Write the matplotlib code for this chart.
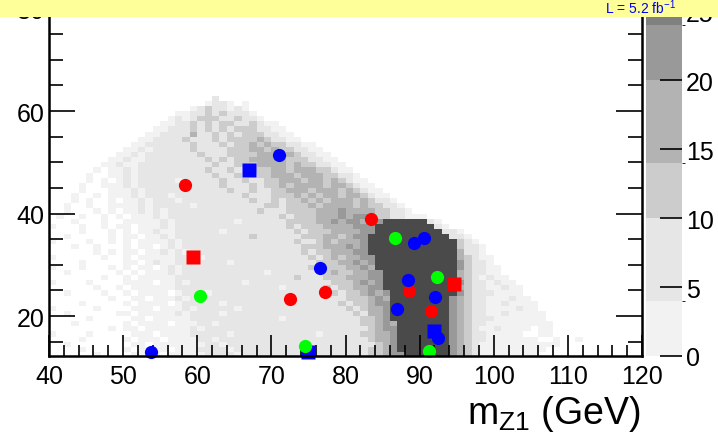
import numpy as np
import matplotlib
matplotlib.use("Agg")
import matplotlib.pyplot as plt
from matplotlib.colors import ListedColormap, BoundaryNorm
from matplotlib.patches import Rectangle
from matplotlib.ticker import MultipleLocator

plt.rcParams['font.family'] = ['Liberation Sans', 'DejaVu Sans']
plt.rcParams['mathtext.fontset'] = 'custom'
plt.rcParams['mathtext.rm'] = 'Liberation Sans'
plt.rcParams['mathtext.it'] = 'Liberation Sans:italic'

# ---------------- data ----------------
# 2D histogram, 1 GeV bins, x from 40 to 120; each row: y bin, first x bin, level segments
# level codes: '.' empty, 1: <4, 2: 4-10, 3: 10-14, 4: 14-20, 5: 20-24, 7: overflow (>25)
row_y = [62, 61, 60, 59, 58, 57, 56, 55, 54, 53, 52, 51, 50, 49, 48, 47, 46, 45, 44, 43,
         42, 41, 40, 39, 38, 37, 36, 35, 34, 33, 32, 31, 30, 29, 28, 27, 26, 25, 24, 23,
         22, 21, 20, 19, 18, 17, 16, 15, 14, 13, 12]
row_start = [62, 61, 59, 57, 56, 55, 54, 53, 52, 51, 50, 49, 48, 47, 46, 45, 45, 44, 44, 43,
             43, 42, 42, 41, 41, 40, 40, 40, 40, 40, 40, 40, 40, 40, 40, 40, 40, 40, 40, 40,
             40, 40, 40, 40, 40, 40, 40, 40, 40, 40, 40]
row_segments = [
    ["2"],
    ["1221.1"],
    ["12322121"],
    ["11223232221"],
    ["1212333223221"],
    ["1122323233223211"],
    ["112223232323332211"],
    ["11222242232323332211"],
    ["1122223222323333432211"],
    ["1122222232223233434332211"],
    ["112122222322223334434332211"],
    ["11212222222322233334443432211"],
    ["1121122222222323233444443332211"],
    ["112112222222222322333444434332211"],
    ["1.11212222", "2222232232", "2333443444", "33211"],
    ["1..1121222", "2222222322", "3223344434", "4433221"],
    ["1.1.121222", "2212222232", "2322334443", "44343211"],
    ["1..1112122", "2222122223", "2223233434", "4443443211"],
    ["1...111212", "2222222222", "3223223344", "4344434321", "1"],
    ["1..1.11121", "2221222222", "2223222333", "4343443443", "211"],
    ["1.1..1.112", "1222122222", "2222322323", "3434344434", "3221"],
    ["1..1..1111", "2122222122", "2222222332", "3334344443", "433221"],
    ["1...1.1.11", "2121222222", "2222223222", "3333444544", "4433221"],
    ["1..1..1.1.", "1112122222", "2222222222", "3233344454", "5553322111"],
    ["..1...1..1", "1111212222", "2222122222", "2333344545", "5455", "777777", "21"],
    ["1...1..1.1", "1.11121222", "2222222222", "2232333444", "4555", "77777777", "21"],
    ["....1...1.", "1.11211222", "2221222222", "2223233344", "4455", "777777777", "221"],
    ["..1.....1.", "11.1121222", "2222222322", "2222333443", "455", "77777777777", "221"],
    ["1....1..1.", "1.11112122", "2222222222", "2223223434", "445", "777777777777", "321"],
    ["...1..1...", "1.11.12122", "2222222222", "2222333444", "545", "777777777777", "3221"],
    ["......1.1.", "11.1121212", "2222222222", "2222323344", "455", "777777777777", "4221"],
    ["1......1..", "1.11111222", "1222222222", "2222232343", "4455", "77777777777", "43211"],
    ["....1.....", "11.1211222", "2222122222", "2222223334", "4545", "77777777777", "53221"],
    ["1...1...1.", "1.11.12122", "2222222222", "2222232333", "4454", "77777777777", "532211"],
    ["..1......1", ".1.1112122", "2222222221", "2222222343", "34455", "7777777777", "432211"],
    [".......1..", "1.11111222", "2222222222", "2223222333", "44455", "7777777777", "4321211"],
    ["1....1....", "1111.11212", "2222221222", "2222222233", "34545", "7777777777", "53221211"],
    ["......1..1", ".111111222", "2222222222", "2122222323", "34455", "7777777777", "432211211"],
    ["..1....1..", "1.1111.122", "2122222222", "2222222232", "334545", "777777777", "532221111"],
    ["........1.", ".11.111212", "2222222222", "2212222222", "333454", "77777777", "54322111211"],
    ["....1.....", "1.1111.122", "2221222222", "2222222223", "233455", "77777777", "543221121111"],
    ["1.....1...", ".111.11121", "2222212222", "2222222222", "323445", "77777777", "543221111211"],
    ["..1......1", "1.11111212", "2221222222", "2222222222", "232445", "77777777", "5432211211111"],
    [".....1....", ".11.111112", "2222222222", "2122222222", "223345", "77777777", "5432221111111"],
    ["...1......", "1.1111.111", "2212222222", "2222222222", "2233454", "7777777", "54322111111111"],
    ["........1.", "11.1111112", "1222222222", "2222222222", "2223455", "7777777", "54321121111.11"],
    ["1....1....", ".111.11112", "2222122222", "2222221222", "2233445", "7777777", "5432211111..11"],
    ["....1.....", "1.111.1111", "2212222222", "2222222222", "2223445", "7777777", "543221111111..1..1"],
    ["..1.......", ".11.111111", "1221222222", "2222222222", "2222345", "7777777", "543211111111111"],
    ["....1.....", "1.1111.111", "2222122222", "2222222222", "2223345", "7777777", "5432111111111"],
    ["......1...", ".1111.1111", "1222212222", "2222222222", "22233455", "777777", "543211111111"],
]
level_values = {'1': 2.0, '2': 7.0, '3': 12.0, '4': 17.0, '5': 22.0, '6': 24.5, '7': 30.0}

# colour scale
z_bounds = [0, 4, 10, 14, 20, 24, 25.2]
z_colors = ['#f2f2f2', '#e6e6e6', '#cccccc', '#b3b3b3', '#999999', '#808080']
z_over = '#4a4a4a'
cbar_ticks = [0, 5, 10, 15, 20, 25]

# data points
red_circle_x = [58.4, 72.5, 77.2, 83.4, 88.6, 91.5]
red_circle_y = [45.6, 23.4, 24.7, 38.9, 24.9, 20.9]
red_square_x = [59.4, 94.6]
red_square_y = [31.6, 26.2]
blue_circle_x = [53.7, 71.0, 76.5, 89.2, 90.6, 88.4, 92.1, 87.0, 92.5]
blue_circle_y = [13.0, 51.5, 29.3, 34.2, 35.3, 27.1, 23.8, 21.4, 15.8]
blue_square_x = [67.0, 74.9, 92.0]
blue_square_y = [48.5, 12.9, 17.1]
green_circle_x = [60.4, 74.6, 86.7, 92.3, 91.2]
green_circle_y = [24.0, 14.2, 35.3, 27.7, 13.2]

x_range = (40, 120)
y_range = (12.2, 80)
x_label = r'm$_{\mathrm{Z1}}$ (GeV)'
banner_text = r'L = 5.2 fb$^{-1}$'

# ---------------- build histogram ----------------
nx = x_range[1] - x_range[0]
y_lo = min(row_y)
ny = max(row_y) - y_lo + 1
Z = np.full((ny, nx), np.nan)
for yb, xs, segs in zip(row_y, row_start, row_segments):
    lev = "".join(segs)
    for i, ch in enumerate(lev):
        xi = xs - x_range[0] + i
        if ch in level_values and 0 <= xi < nx:
            Z[yb - y_lo, xi] = level_values[ch]
Zm = np.ma.masked_invalid(Z)
x_edges = np.arange(x_range[0], x_range[1] + 1)
y_edges = np.arange(y_lo, y_lo + ny + 1)

cmap = ListedColormap(z_colors)
cmap.set_over(z_over)
norm = BoundaryNorm(z_bounds, cmap.N)

# ---------------- figure ----------------
W, H = 718, 439
fig = plt.figure(figsize=(W / 100, H / 100), dpi=100)
fig.patch.set_facecolor('white')
ax = fig.add_axes([49 / W, 82 / H, (642 - 49) / W, (357 - 9.5) / H])
cax = fig.add_axes([646 / W, 82 / H, (682 - 646) / W, (357 - 9.5) / H])

mesh = ax.pcolormesh(x_edges, y_edges, Zm, cmap=cmap, norm=norm, zorder=1)

mk = dict(ls='none', clip_on=False, zorder=5, mec='none')
ax.plot(red_circle_x, red_circle_y, marker='o', ms=9.5, color='#ff0000', **mk)
ax.plot(red_square_x, red_square_y, marker='s', ms=9.5, color='#ff0000', **mk)
ax.plot(blue_circle_x, blue_circle_y, marker='o', ms=9.5, color='#0000ff', **mk)
ax.plot(blue_square_x, blue_square_y, marker='s', ms=9.5, color='#0000ff', **mk)
ax.plot(green_circle_x, green_circle_y, marker='o', ms=9.5, color='#00ff00', **mk)

ax.set_xlim(*x_range)
ax.set_ylim(*y_range)
ax.xaxis.set_major_locator(MultipleLocator(10))
ax.xaxis.set_minor_locator(MultipleLocator(2))
ax.yaxis.set_major_locator(MultipleLocator(20))
ax.yaxis.set_minor_locator(MultipleLocator(5))
ax.tick_params(axis='x', which='major', direction='in', length=15, width=1.2,
               bottom=True, top=False, labelsize=18, pad=6)
ax.tick_params(axis='x', which='minor', direction='in', length=8, width=1.2,
               bottom=True, top=False)
ax.tick_params(axis='y', which='major', direction='in', length=19, width=1.2,
               left=True, right=True, labelsize=18, pad=3)
ax.tick_params(axis='y', which='minor', direction='in', length=10, width=1.2,
               left=True, right=True)
for s in ax.spines.values():
    s.set_linewidth(1.8)
    s.set_zorder(6)

cb = fig.colorbar(mesh, cax=cax, spacing='proportional', extend='neither')
cb.set_ticks(cbar_ticks)
cb.outline.set_visible(False)
cax.tick_params(axis='y', direction='in', length=16, width=1.2, labelsize=18,
                pad=3, right=True, left=False)

fig.text(640 / W, (H - 424) / H, x_label, ha='right', va='baseline', fontsize=27)

# top banner
fig.patches.append(Rectangle((0, (H - 17.5) / H), 1, 17.5 / H, transform=fig.transFigure,
                             facecolor='#ffff99', edgecolor='none', zorder=10))
fig.text(676 / W, (H - 14) / H, banner_text, ha='right', va='baseline', fontsize=10,
         color='#0000ff', zorder=11)

fig.savefig('out.png', dpi=100)
